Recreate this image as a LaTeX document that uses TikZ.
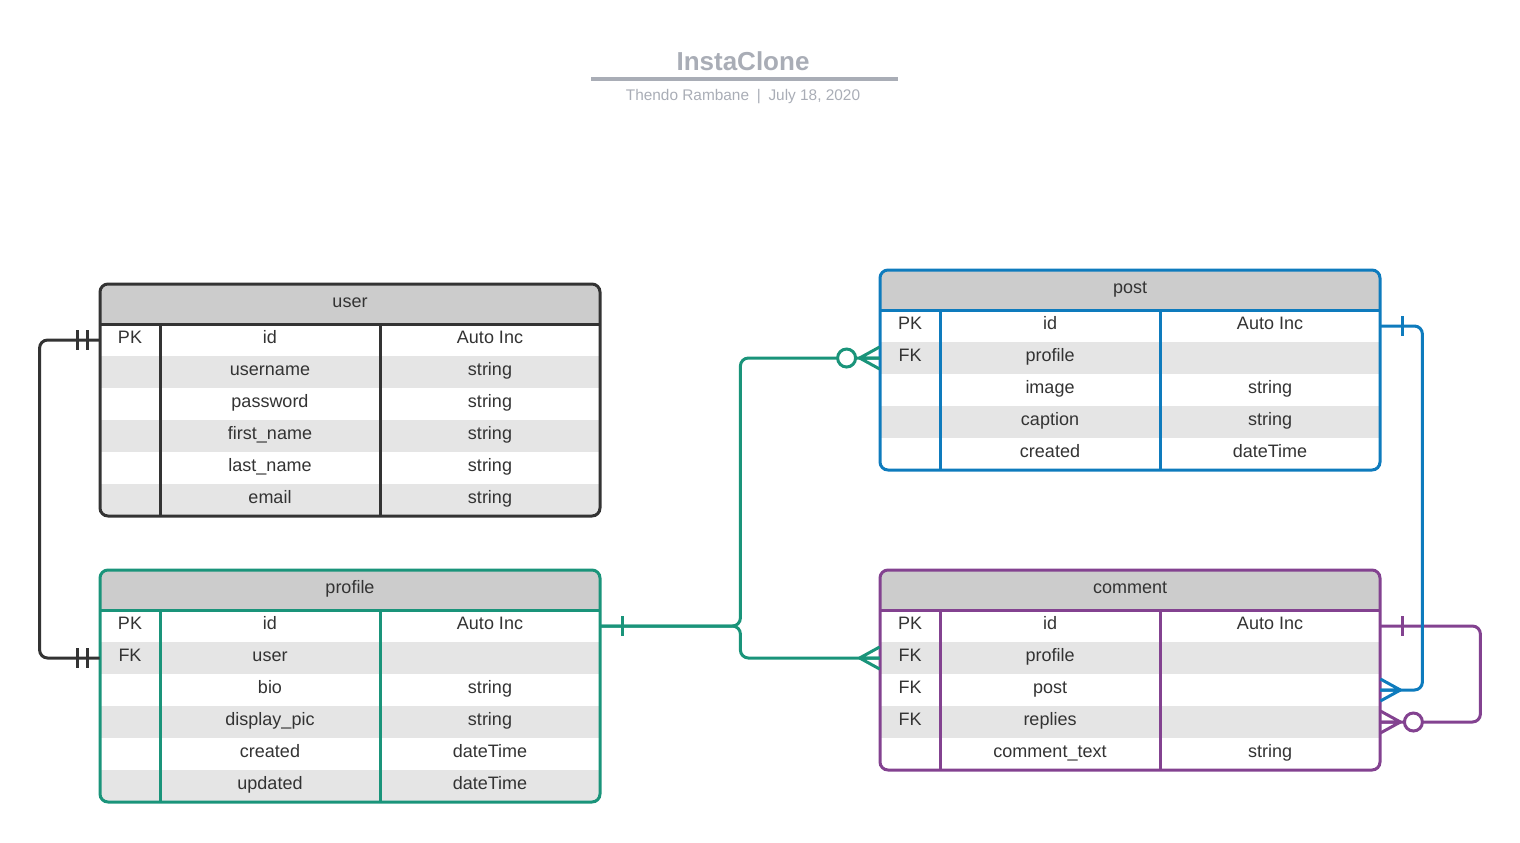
\documentclass[tikz,border=0pt]{standalone}
\usepackage{fontspec}
\setmainfont{Liberation Sans}
\usetikzlibrary{positioning}
\definecolor{ink}{HTML}{333333}
\definecolor{erteal}{RGB}{26,148,122}
\definecolor{erblue}{RGB}{14,123,189}
\definecolor{erplum}{RGB}{131,66,144}
\definecolor{hdrgray}{HTML}{CCCCCC}
\definecolor{stripe}{HTML}{E5E5E5}
\definecolor{ttlgray}{HTML}{A9ADB6}
\tikzset{
  cell/.style={font=\fontsize{9}{11}\selectfont,text=ink,inner sep=0pt,
               text height=6.5pt,text depth=1.8pt},
  rowbox/.style={minimum width=250pt,minimum height=16pt,inner sep=0pt},
  frame/.style={line width=1.5pt},
  rel/.style={line width=1.5pt,rounded corners=4pt},
  ttl/.style={font=\bfseries\fontsize{13}{15}\selectfont,text=ttlgray},
  sub/.style={font=\fontsize{7.7}{9}\selectfont,text=ttlgray},
  pics/barone/.style={code={\draw[line width=1.5pt] (-22,-10)--(-22,10);}},
  pics/bartwo/.style={code={\draw[line width=1.5pt] (-12,-10)--(-12,10) (-22,-10)--(-22,10);}},
  pics/crow/.style={code={\draw[line width=1.5pt,line join=round] (0,-11)--(-20,0)--(0,11) (0,0)--(-20,0);}},
  pics/zcrow/.style={code={\draw[line width=1.5pt,line join=round] (0,-11)--(-20,0)--(0,11) (0,0)--(-20,0);
                           \draw[line width=1.5pt,fill=white] (-33,0) circle[radius=9];}},
}
% #1 name, #2 colour, #3 left, #4 top, #5 title, #6 rows, #7 key/field/type list
\newcommand\ertable[7]{%
  \begin{scope}
    \clip[rounded corners=4pt] (#3,#4) rectangle ({#3+500},{#4+40+32*#6});
    \fill[hdrgray] (#3,#4) rectangle ({#3+500},{#4+40});
    \foreach \k/\f/\t [count=\i] in {#7} {
      \pgfmathtruncatemacro\sh{mod(\i+1,2)*100}
      \fill[stripe!\sh] (#3,{#4+8+32*\i}) rectangle ({#3+500},{#4+40+32*\i});
      \node[rowbox] (#1-\i) at ({#3+250},{#4+24+32*\i}) {};
      \node[cell] at ({#3+30},{#4+23+32*\i}) {\k};
      \node[cell] at ({#3+170},{#4+23+32*\i}) {\f};
      \node[cell] at ({#3+390},{#4+23+32*\i}) {\t};
    }
  \end{scope}
  \node[cell] (#1) at ({#3+250},{#4+19}) {#5};
  \draw[#2,frame] (#3,{#4+40}) -- ({#3+500},{#4+40})
        ({#3+60},{#4+40}) -- ({#3+60},{#4+40+32*#6})
        ({#3+280},{#4+40}) -- ({#3+280},{#4+40+32*#6});
  \draw[#2,frame,rounded corners=4pt] (#3,#4) rectangle ({#3+500},{#4+40+32*#6});
}

\begin{document}
\begin{tikzpicture}[x=0.5pt,y=-0.5pt]
  \useasboundingbox (0,0) rectangle (1520,842);
  % heading
  \node[ttl] (title) at (743,61) {InstaClone};
  \draw[ttlgray,line width=2pt] (591,79) -- (898,79);
  \node[sub] (byline) at (743,97) {Thendo Rambane\enspace|\enspace July 18, 2020};
  % entities
  \ertable{user}{ink}{100}{284}{user}{6}{PK/id/Auto Inc,/username/string,/password/string,
    /first\_name/string,/last\_name/string,/email/string}
  \ertable{profile}{erteal}{100}{570}{profile}{6}{PK/id/Auto Inc,FK/user/,/bio/string,
    /display\_pic/string,/created/dateTime,/updated/dateTime}
  \ertable{post}{erblue}{880}{270}{post}{5}{PK/id/Auto Inc,FK/profile/,/image/string,
    /caption/string,/created/dateTime}
  \ertable{comment}{erplum}{880}{570}{comment}{5}{PK/id/Auto Inc,FK/profile/,FK/post/,
    FK/replies/,/comment\_text/string}
  % relations
  \draw[rel,ink] (user-1.west) -- ++(-60,0) |- (profile-2.west);
  \pic[ink] at (user-1.west) {bartwo};
  \pic[ink] at (profile-2.west) {bartwo};
  \draw[rel,erteal] (profile-1.east) -- ++(140,0) |- (post-2.west);
  \draw[rel,erteal] (profile-1.east) -- ++(140,0) |- (comment-2.west);
  \pic[erteal,xscale=-1] at (profile-1.east) {barone};
  \pic[erteal] at (post-2.west) {zcrow};
  \pic[erteal] at (comment-2.west) {crow};
  \draw[rel,erplum] (comment-1.east) -- ++(100,0) |- (comment-4.east);
  \pic[erplum,xscale=-1] at (comment-1.east) {barone};
  \pic[erplum,xscale=-1] at (comment-4.east) {zcrow};
  \draw[rel,erblue] (post-1.east) -- ++(42,0) |- (comment-3.east);
  \pic[erblue,xscale=-1] at (post-1.east) {barone};
  \pic[erblue,xscale=-1] at (comment-3.east) {crow};
\end{tikzpicture}
\end{document}
